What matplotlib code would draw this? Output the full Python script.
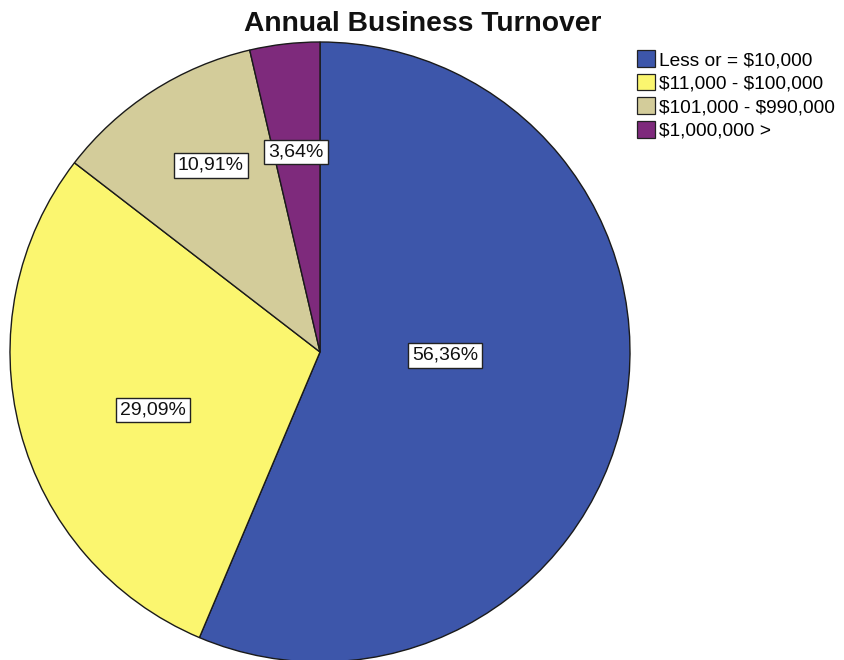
import matplotlib
matplotlib.use("Agg")
import matplotlib.pyplot as plt
import numpy as np

plt.rcParams['font.family'] = ['Liberation Sans', 'DejaVu Sans']
plt.rcParams['text.parse_math'] = False

categories = ["Less or = $10,000", "$11,000 - $100,000", "$101,000 - $990,000", "$1,000,000 >"]
percentages = [56.36, 29.09, 10.91, 3.64]
colors = ["#3d56aa", "#fbf66f", "#d3cc9a", "#7e2a7c"]

# label placement: (radius fraction, angular shift in degrees from the wedge bisector)
label_place = [(0.403, 10.0), (0.571, 4.4), (0.698, -2.4), (0.650, 0.3)]

fig = plt.figure(figsize=(8.45, 6.6), dpi=100)
ax = fig.add_axes([10 / 845, -2 / 660, 620 / 845, 620 / 660])

wedges, _ = ax.pie(percentages, colors=colors, startangle=90, counterclock=False,
                   wedgeprops=dict(edgecolor="#1a1a1a", linewidth=1.0))
ax.set_aspect("equal")
ax.set_xlim(-1.0, 1.0)
ax.set_ylim(-1.0, 1.0)

for w, pct, (d, shift) in zip(wedges, percentages, label_place):
    mid = np.deg2rad((w.theta1 + w.theta2) / 2 + shift)
    ax.text(d * np.cos(mid), d * np.sin(mid), f"{pct:.2f}%".replace(".", ","),
            ha="center", va="center", fontsize=14, color="#111111",
            bbox=dict(boxstyle="square,pad=0.2", facecolor="white",
                      edgecolor="#222222", linewidth=1.0))

fig.text(0.5, 0.963, "Annual Business Turnover", ha="center", va="center",
         fontsize=20.3, fontweight="bold", color="#111111")

leg = fig.legend(wedges, categories, loc="upper left", bbox_to_anchor=(0.754, 0.924),
                 frameon=False, fontsize=13.8, handlelength=0.95, handleheight=0.95,
                 handletextpad=0.2, labelspacing=0.25, borderpad=0.0,
                 borderaxespad=0.0)
for h in leg.legend_handles:
    h.set_edgecolor("#222222")
    h.set_linewidth(0.9)

fig.savefig("out.png", dpi=100)
